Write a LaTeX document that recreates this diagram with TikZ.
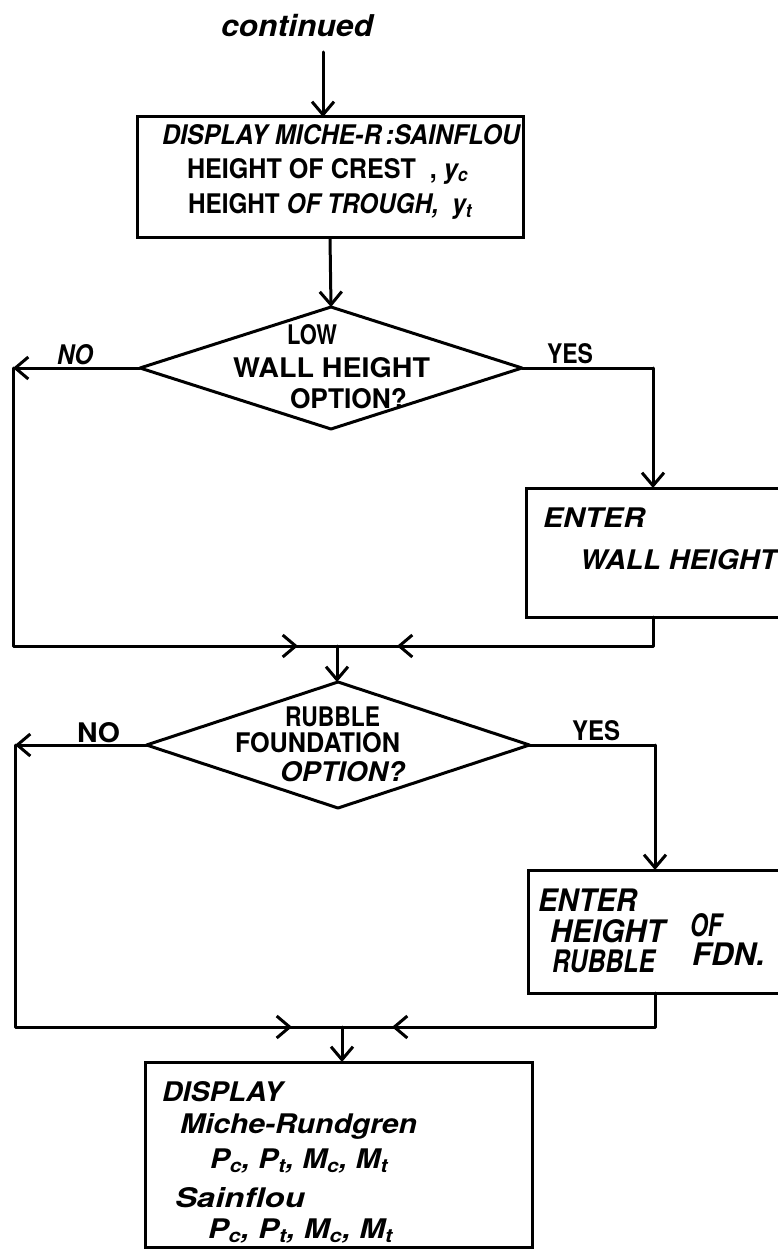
\documentclass[tikz,border=0pt]{standalone}
\usepackage{fontspec}
\setmainfont{TeX Gyre Heros}
\usetikzlibrary{shapes.geometric,arrows.meta,decorations.markings}
\newcommand\fw[2]{\resizebox{#1}{\height}{#2}}
\newcommand\hwa{\fontsize{27}{29}\selectfont\bfseries}
\newcommand\hwb{\fontsize{31}{33}\selectfont\bfseries}
\newcommand\hwc{\fontsize{27}{29}\selectfont\bfseries}
\tikzset{
  flow/.style={line width=3pt, line join=round, line cap=round},
  arr/.style={flow, ->},
  midarr/.style={postaction={decorate}, decoration={markings, mark=at position #1 with {\arrow{>}}}},
  boxn/.style={draw, rectangle, line width=3pt, inner sep=0pt, outer sep=0pt},
  dian/.style={draw, diamond, line width=3pt, line join=round, inner sep=0pt, outer sep=0pt},
  lbl/.style={inner sep=0pt, outer sep=0pt, anchor=west, font=\hwa},
  lblb/.style={inner sep=0pt, outer sep=0pt, anchor=west, font=\hwb},
  lblc/.style={inner sep=0pt, outer sep=0pt, anchor=west, font=\hwc},
}
\begin{document}
\begin{tikzpicture}[x=1pt,y=-1pt, >={Straight Barb[length=13pt,width=22pt]}]
\useasboundingbox (0,0) rectangle (778,1249);
\fill[white] (0,0) rectangle (778,1249);
\clip (0,0) rectangle (778,1249);

% ---- nodes
\node[lbl, font=\fontsize{30}{32}\selectfont\bfseries\itshape] (cont) at (221,26) {\fw{152pt}{continued}};
\node[boxn, minimum width=386pt, minimum height=121pt] (b1) at (330,177.5) {};
\node[dian, minimum width=382pt, minimum height=122pt] (d1) at (331,368) {};
\node[boxn, minimum width=274pt, minimum height=129pt] (b2) at (663,552.5) {};
\node[dian, minimum width=383pt, minimum height=126pt] (d2) at (338,745) {};
\node[boxn, minimum width=272pt, minimum height=123pt] (b3) at (664,931.5) {};
\node[boxn, minimum width=387pt, minimum height=185pt] (b4) at (338.5,1154.5) {};

\coordinate (a0) at (323,52);
\coordinate (nc1) at (13,368);
\coordinate (yc1) at (653,368);
\coordinate (m1) at (337,646);
\coordinate (nc2) at (15,745);
\coordinate (yc2) at (655,745);
\coordinate (m2) at (342,1027);

% ---- texts
\node[lbl] (t11) at (162,135) {\fw{358pt}{\itshape DISPLAY MICHE-R\,:SAINFLOU}};
\node[lbl] (t12) at (187,171) {\fw{281pt}{HEIGHT OF CREST\ \ , \itshape y\textsubscript{c}}};
\node[lbl] (t13) at (188,206) {\fw{284pt}{HEIGHT \itshape OF TROUGH,\ \ y\textsubscript{t}}};

\node[lbl] (t21) at (287,335) {\fw{50pt}{LOW}};
\node[lbl] (t22) at (233,368) {\fw{197pt}{WALL HEIGHT}};
\node[lbl] (t23) at (290,399) {\fw{117pt}{OPTION?}};
\node[lbl] (no1) at (57,355) {\fw{36pt}{\itshape NO}};
\node[lbl] (yes1) at (547,354) {\fw{46pt}{YES}};

\node[lbl] (t31) at (543,518) {\fw{102pt}{\itshape ENTER}};
\node[lbl] (t32) at (580,560) {\fw{197pt}{\itshape WALL HEIGHT}};

\node[lbl] (t41) at (285,717) {\fw{95pt}{RUBBLE}};
\node[lbl] (t42) at (235,743) {\fw{165pt}{FOUNDATION}};
\node[lbl] (t43) at (280,772) {\fw{125pt}{\itshape OPTION?}};
\node[lbl] (no2) at (77,733) {\fw{43pt}{NO}};
\node[lbl] (yes2) at (572,731) {\fw{48pt}{YES}};

\node[lblb] (t51) at (538,900) {\fw{99pt}{\itshape ENTER}};
\node[lblb] (t52) at (550,931) {\fw{115pt}{\itshape HEIGHT}};
\node[lblb] (t53) at (690,925) {\fw{32pt}{\itshape OF}};
\node[lblb] (t54) at (552,961) {\fw{103pt}{\itshape RUBBLE}};
\node[lblb] (t55) at (692,954) {\fw{73pt}{\itshape FDN.}};

\node[lblc] (t61) at (162,1092) {\fw{121pt}{\itshape DISPLAY}};
\node[lblc] (t62) at (180,1126) {\fw{237pt}{\itshape Miche-Rundgren}};
\node[lblc] (t63) at (210,1161) {\fw{178pt}{\itshape P\textsubscript{c}, P\textsubscript{t}, M\textsubscript{c}, M\textsubscript{t}}};
\node[lblc] (t64) at (175,1198) {\fw{130pt}{\itshape Sainflou}};
\node[lblc] (t65) at (208,1231) {\fw{185pt}{\itshape P\textsubscript{c}, P\textsubscript{t}, M\textsubscript{c}, M\textsubscript{t}}};

% ---- connectors
\draw[arr] (a0) -- (a0 |- b1.north);
\draw[arr] (b1.south) -- (d1.north);
\draw[arr] (d1.west) -- (nc1);
\draw[flow, midarr=-39pt] (nc1) |- (m1);
\draw[flow] (d1.east) -- (yc1);
\draw[arr] (yc1) -- (yc1 |- b2.north);
\draw[flow, midarr=-60pt] (b2.south -| yc1) |- (m1);
\draw[arr] (m1) -- (m1 |- d2.north);
\draw[arr] (d2.west) -- (nc2);
\draw[flow, midarr=-50pt] (nc2) |- (m2);
\draw[flow] (d2.east) -- (yc2);
\draw[arr] (yc2) -- (yc2 |- b3.north);
\draw[flow, midarr=-50pt] (b3.south -| yc2) |- (m2);
\draw[arr] (m2) -- (m2 |- b4.north);
\end{tikzpicture}
\end{document}
